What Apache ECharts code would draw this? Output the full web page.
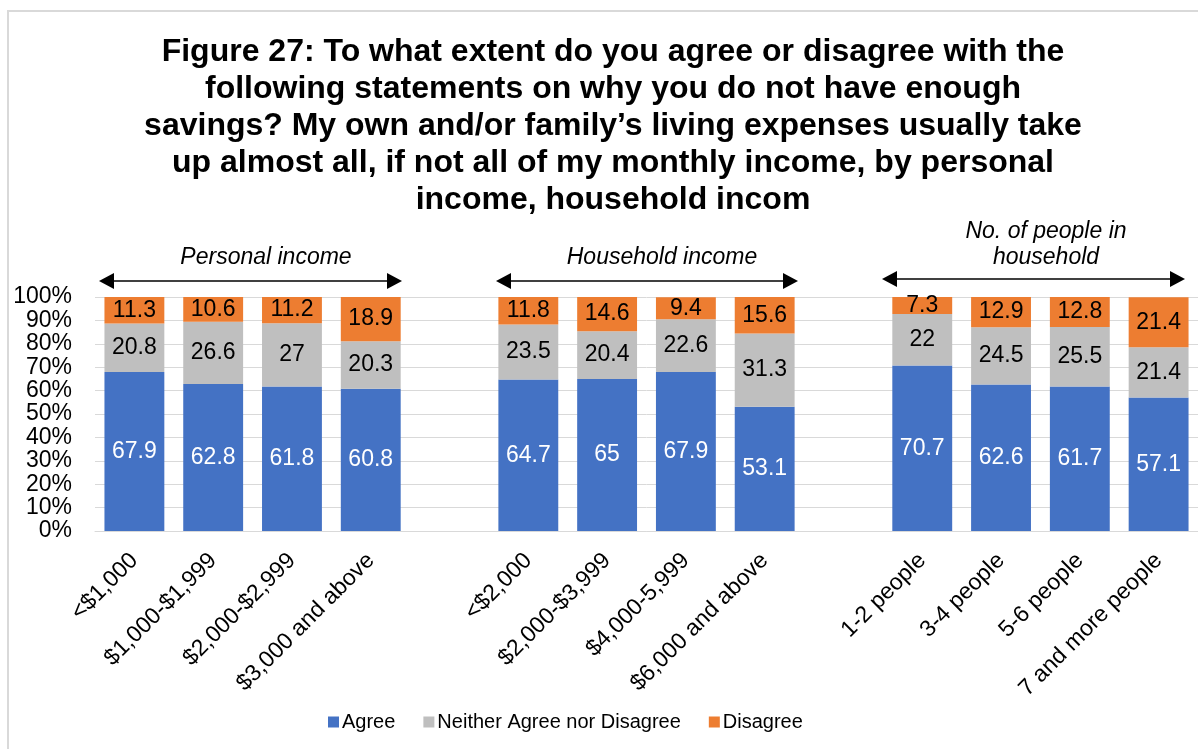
<!DOCTYPE html>
<html>
<head>
<meta charset="utf-8">
<script src="https://cdn.jsdelivr.net/npm/echarts@6/dist/echarts.min.js"></script>
<style>
  html, body { margin: 0; padding: 0; background: #fff; }
  #chart { width: 1198px; height: 749px; }
</style>
</head>
<body>
<div id="chart"></div>
<script>
// Categories: three groups separated by an empty slot
const personalIncome = ['<$1,000', '$1,000-$1,999', '$2,000-$2,999', '$3,000 and above'];
const householdIncome = ['<$2,000', '$2,000-$3,999', '$4,000-5,999', '$6,000 and above'];
const householdSize = ['1-2 people', '3-4 people', '5-6 people', '7 and more people'];

// Shares (%) per group
const agreePersonal = [67.9, 62.8, 61.8, 60.8];
const neitherPersonal = [20.8, 26.6, 27, 20.3];
const disagreePersonal = [11.3, 10.6, 11.2, 18.9];

const agreeHousehold = [64.7, 65, 67.9, 53.1];
const neitherHousehold = [23.5, 20.4, 22.6, 31.3];
const disagreeHousehold = [11.8, 14.6, 9.4, 15.6];

const agreeSize = [70.7, 62.6, 61.7, 57.1];
const neitherSize = [22, 24.5, 25.5, 21.4];
const disagreeSize = [7.3, 12.9, 12.8, 21.4];

const yTicks = [0, 10, 20, 30, 40, 50, 60, 70, 80, 90, 100];

const categories = [...personalIncome, '', ...householdIncome, ' ', ...householdSize];
const join = (a, b, c) => [...a, null, ...b, null, ...c];

const agree = join(agreePersonal, agreeHousehold, agreeSize);
const neither = join(neitherPersonal, neitherHousehold, neitherSize);
const disagree = join(disagreePersonal, disagreeHousehold, disagreeSize);

const FONT = '"Liberation Sans", Arial, sans-serif';

function arrow(x1, x2, y) {
  const h = 8, w = 15;
  return [
    { type: 'line', shape: { x1: x1 + 4, y1: y, x2: x2 - 4, y2: y }, style: { stroke: '#000', lineWidth: 1.5 } },
    { type: 'polygon', shape: { points: [[x1, y], [x1 + w, y - h], [x1 + w, y + h]] }, style: { fill: '#000' } },
    { type: 'polygon', shape: { points: [[x2, y], [x2 - w, y - h], [x2 - w, y + h]] }, style: { fill: '#000' } }
  ];
}

function groupLabel(text, x, y) {
  return {
    type: 'text', x: x, y: y,
    style: { text: text, font: 'italic 23px ' + FONT, fill: '#000', textAlign: 'center', textVerticalAlign: 'middle' }
  };
}

const chart = echarts.init(document.getElementById('chart'));

const seriesBase = (name, data, color, labelColor) => ({
  name: name,
  type: 'bar',
  stack: 'total',
  data: data,
  barCategoryGap: '24%',
  itemStyle: { color: color },
  label: {
    show: true,
    position: 'inside',
    color: labelColor,
    fontFamily: FONT,
    fontSize: 23,
    formatter: p => (p.value == null ? '' : String(p.value))
  }
});

chart.setOption({
  animation: false,
  textStyle: { fontFamily: FONT },
  title: {
    text: 'Figure 27: To what extent do you agree or disagree with the\nfollowing statements on why you do not have enough\nsavings? My own and/or family\u2019s living expenses usually take\nup almost all, if not all of my monthly income, by personal\nincome, household incom',
    left: 608,
    textAlign: 'center',
    top: 29,
    textStyle: { fontFamily: FONT, fontSize: 32, fontWeight: 'bold', color: '#000', lineHeight: 37 }
  },
  legend: {
    bottom: 12,
    left: 323,
    itemWidth: 11,
    itemHeight: 11,
    itemGap: 28,
    icon: 'rect',
    textStyle: { fontFamily: FONT, fontSize: 20, color: '#000', padding: [0, 0, 0, -2] },
    data: ['Agree', 'Neither Agree nor Disagree', 'Disagree']
  },
  grid: { left: 95, right: 0, top: 297, bottom: 218 },
  xAxis: {
    type: 'category',
    data: categories,
    axisTick: { show: false },
    axisLine: { lineStyle: { color: '#D9D9D9', width: 1 } },
    axisLabel: { interval: 0, rotate: 45, fontFamily: FONT, fontSize: 23, color: '#000', margin: 26 }
  },
  yAxis: {
    type: 'value',
    min: yTicks[0],
    max: yTicks[yTicks.length - 1],
    interval: 10,
    axisLine: { show: false },
    axisTick: { show: false },
    splitLine: { lineStyle: { color: '#D9D9D9', width: 1 } },
    axisLabel: { formatter: '{value}%', fontFamily: FONT, fontSize: 23, color: '#000', margin: 23 }
  },
  series: [
    seriesBase('Agree', agree, '#4472C4', '#fff'),
    seriesBase('Neither Agree nor Disagree', neither, '#BFBFBF', '#000'),
    seriesBase('Disagree', disagree, '#ED7D31', '#000')
  ],
  graphic: [
    { type: 'rect', shape: { x: 8, y: 11, width: 1300, height: 900 }, style: { fill: 'none', stroke: '#D9D9D9', lineWidth: 2 }, silent: true },
    ...arrow(99, 402, 281),
    groupLabel('Personal income', 266, 258),
    ...arrow(496, 798, 281),
    groupLabel('Household income', 662, 258),
    ...arrow(882, 1185, 279),
    groupLabel('No. of people in', 1046, 232),
    groupLabel('household', 1046, 258)
  ]
});
</script>
</body>
</html>
